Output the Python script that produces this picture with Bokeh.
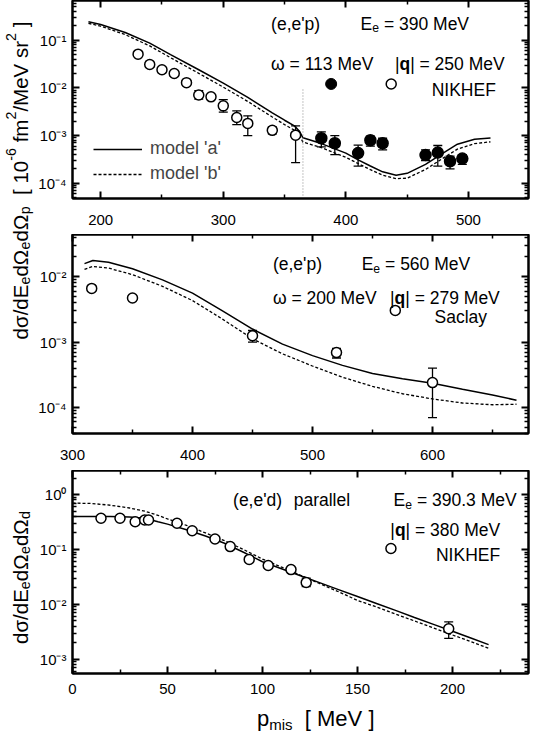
import math
from bokeh.plotting import figure
from bokeh.models import (Range1d, LinearAxis, LogAxis, FixedTicker, Label, Whisker, TeeHead,
                          ColumnDataSource, Legend, LegendItem, Div)
from bokeh.layouts import row, column
from bokeh.embed import file_html
from bokeh.resources import INLINE

FONT = "Liberation Sans"

# ---------------- data: top panel (e,e'p) 390 MeV, NIKHEF ----------------
top_model_x = [190, 200, 220, 240, 257, 280, 300, 320, 340, 350, 358, 362, 365, 380, 400, 410,
               420, 430, 441, 450, 465, 478, 491, 505, 518]
top_model_a = [0.243, 0.214, 0.145, 0.087, 0.050, 0.024, 0.0126, 0.0063, 0.0030, 0.0021, 0.0016,
               0.00125, 0.00090, 0.00068, 0.00043, 0.00031, 0.00023, 0.000174, 0.000148, 0.000162,
               0.00025, 0.00041, 0.00066, 0.00084, 0.00089]
top_model_b = [0.226, 0.197, 0.131, 0.076, 0.043, 0.0202, 0.0104, 0.0052, 0.00245, 0.0017, 0.0013,
               0.00102, 0.00073, 0.00056, 0.00035, 0.00026, 0.000193, 0.000148, 0.000125, 0.000128,
               0.000195, 0.00032, 0.00052, 0.00068, 0.00074]
top_open_x = [230.5, 240, 250, 260, 270, 280, 290, 300, 311, 320, 340, 359]
top_open_y = [0.051, 0.031, 0.024, 0.020, 0.0129, 0.0071, 0.0065, 0.0042, 0.0024, 0.0018, 0.00129, 0.00102]
top_open_lo = [0.046, 0.027, 0.021, 0.018, 0.0115, 0.0058, 0.0058, 0.0031, 0.0017, 0.0010, 0.00109, 0.00027]
top_open_hi = [0.056, 0.036, 0.027, 0.022, 0.0145, 0.0088, 0.0072, 0.0057, 0.0033, 0.0026, 0.00153, 0.0016]
top_full_x = [380, 391, 410, 420, 430, 465, 475, 485, 495]
top_full_y = [0.00088, 0.00069, 0.00043, 0.00080, 0.00069, 0.00039, 0.00044, 0.00029, 0.00033]
top_full_lo = [0.00058, 0.00040, 0.00023, 0.00060, 0.00050, 0.00030, 0.00023, 0.00020, 0.00025]
top_full_hi = [0.00120, 0.00100, 0.00063, 0.00097, 0.00088, 0.00050, 0.00062, 0.00037, 0.00040]
top_boundary_x = 365
top_boundary_ytop = 0.0099

# ---------------- data: middle panel (e,e'p) 560 MeV, Saclay ----------------
mid_model_x = [310, 317, 330, 350, 375, 400, 425, 450, 475, 500, 525, 550, 575, 600, 625, 650, 670]
mid_model_a = [0.0158, 0.0176, 0.0166, 0.0132, 0.0089, 0.0056, 0.0030, 0.00158, 0.00093, 0.00062,
               0.00044, 0.00033, 0.000275, 0.000234, 0.00019, 0.000155, 0.000129]
mid_model_b = [0.0129, 0.0143, 0.0135, 0.0107, 0.0071, 0.0043, 0.00224, 0.00112, 0.00066, 0.00043,
               0.00029, 0.00021, 0.000162, 0.000135, 0.000117, 0.000110, 0.000112]
mid_pts_x = [316, 350, 450, 520, 600]
mid_pts_y = [0.0066, 0.0047, 0.00125, 0.00069, 0.00024]
mid_pts_lo = [0.0061, 0.0044, 0.00100, 0.00057, 0.00007]
mid_pts_hi = [0.0071, 0.0050, 0.00150, 0.00080, 0.00040]

# ---------------- data: bottom panel (e,e'd) parallel ----------------
bot_model_x = [0, 10, 20, 30, 38, 45, 50, 60, 70, 80, 90, 100, 110, 120, 130, 140, 150, 160, 170,
               180, 190, 200, 210, 219]
bot_model_a = [0.40, 0.40, 0.398, 0.39, 0.37, 0.32, 0.29, 0.229, 0.176, 0.130, 0.089, 0.0598, 0.0447,
               0.0333, 0.0249, 0.0186, 0.0139, 0.0104, 0.00776, 0.00578, 0.00432, 0.00323, 0.00241, 0.00185]
bot_model_b = [0.70, 0.69, 0.64, 0.57, 0.50, 0.42, 0.36, 0.275, 0.20, 0.145, 0.100, 0.067, 0.0478,
               0.0339, 0.024, 0.017, 0.0118, 0.00896, 0.00668, 0.00498, 0.00371, 0.00277, 0.00207, 0.00158]
bot_pts_x = [15, 25, 33, 38, 40, 55, 63, 75, 83, 93, 103, 115, 123, 198]
bot_pts_y = [0.37, 0.37, 0.32, 0.345, 0.345, 0.30, 0.22, 0.155, 0.113, 0.066, 0.051, 0.043, 0.025, 0.0036]
bot_pts_lo = [0.35, 0.35, 0.30, 0.33, 0.33, 0.28, 0.205, 0.145, 0.106, 0.061, 0.047, 0.040, 0.021, 0.0024]
bot_pts_hi = [0.39, 0.39, 0.34, 0.36, 0.36, 0.32, 0.24, 0.165, 0.120, 0.071, 0.055, 0.046, 0.030, 0.0048]

# ---------------- ticks ----------------
top_xticks = [200, 300, 400, 500]
top_xminor = [250, 350, 450, 550]
mid_xticks = [300, 400, 500, 600]
mid_xminor = [350, 450, 550, 650]
bot_xticks = [0, 50, 100, 150, 200]
bot_xminor = [25, 75, 125, 175, 225]
top_yticks = [1e-4, 1e-3, 1e-2, 1e-1]
top_ylabels = ["10⁻⁴", "10⁻³", "10⁻²", "10⁻¹"]
mid_yticks = [1e-4, 1e-3, 1e-2]
mid_ylabels = ["10⁻⁴", "10⁻³", "10⁻²"]
bot_yticks = [1e-3, 1e-2, 1e-1, 1.0]
bot_ylabels = ["10⁻³", "10⁻²", "10⁻¹", "10⁰"]
log_minor = [m * 10.0 ** e for e in range(-6, 1) for m in range(2, 10)]

# ---------------- text helpers ----------------
W = {' ': 278, '!': 278, "'": 191, '(': 333, ')': 333, ',': 278, '-': 333, '.': 278, '/': 278,
     '=': 584, '[': 278, ']': 278, '|': 260, 'E': 667, 'F': 611, 'H': 722, 'I': 278, 'K': 667,
     'M': 833, 'N': 722, 'S': 667, 'V': 667, 'a': 556, 'c': 500, 'd': 556, 'e': 556, 'f': 278,
     'i': 222, 'l': 222, 'm': 833, 'o': 556, 'p': 556, 'q': 556, 'r': 333, 's': 500, 'y': 500,
     'σ': 617, 'Ω': 768, 'ω': 781}
for _c in "0123456789":
    W[_c] = 556
WB = {'q': 611, '|': 280}


def seg_size(st, fs):
    return fs * 0.7 if st in ("sub", "sup") else fs


def twidth(s, bold=False):
    t = WB if bold else W
    return sum(t.get(c, W.get(c, 556)) for c in s) / 1000.0


def total_len(segs, fs):
    return sum(twidth(t, s == "b") * seg_size(s, fs) for t, s in segs)


def rich(p, x, y, segs, fs, units="data", angle=0.0, center=True, sub_shift=0.24):
    base = -0.36 * fs if center else 0.0
    adv = 0.0
    for txt, st in segs:
        size = seg_size(st, fs)
        bold = st == "b"
        shift = -sub_shift * fs if st == "sub" else (0.42 * fs if st == "sup" else 0.0)
        lead = len(txt) - len(txt.lstrip(" "))
        trail = len(txt) - len(txt.rstrip(" "))
        body = txt.strip(" ")
        adv += twidth(" " * lead) * size
        if body:
            if angle == 0.0:
                xo, yo = adv, base + shift
            else:
                xo, yo = -(base + shift), adv
            p.add_layout(Label(x=x, y=y, x_units=units, y_units=units,
                               x_offset=xo, y_offset=yo, text=body, angle=angle,
                               text_font=FONT, text_font_size=f"{size:.1f}px",
                               text_font_style="bold" if bold else "normal",
                               text_baseline="alphabetic", text_align="left", text_color="black"))
        adv += twidth(body, bold) * size + twidth(" " * trail) * size
    return adv


def make_fig(h, xr, yr, bottom_border):
    p = figure(width=495, height=h, x_range=Range1d(*xr), y_range=Range1d(*yr),
               y_axis_type="log", output_backend="svg", toolbar_location=None,
               min_border_left=37, min_border_right=2, min_border_top=0,
               min_border_bottom=bottom_border)
    p.xgrid.visible = False
    p.ygrid.visible = False
    p.outline_line_color = "black"
    p.outline_line_width = 2
    p.background_fill_color = "white"
    p.border_fill_color = "white"
    return p


def blank_fig(w, h):
    # a plain canvas without any axes: used for texts that lie outside the panels
    p = figure(width=w, height=h, x_range=Range1d(0, w), y_range=Range1d(0, h),
               x_axis_location=None, y_axis_location=None,
               output_backend="svg", toolbar_location=None, min_border=0)
    p.xgrid.visible = False
    p.ygrid.visible = False
    p.outline_line_color = None
    return p


def style_axis(ax, ticks, minor, labels=None, standoff=6):
    ax.ticker = FixedTicker(ticks=ticks, minor_ticks=minor)
    ax.major_tick_in = 7
    ax.major_tick_out = 0
    ax.minor_tick_in = 4
    ax.minor_tick_out = 0
    ax.major_tick_line_width = 2
    ax.minor_tick_line_width = 1.5
    ax.axis_line_width = 2
    ax.axis_line_color = "black"
    ax.major_tick_line_color = "black"
    ax.minor_tick_line_color = "black"
    ax.major_label_text_font = FONT
    if labels is None:
        # mirror axis: ticks only
        ax.major_label_text_font_size = "1px"
        ax.major_label_standoff = 0
        ax.major_label_overrides = {t: "" for t in ticks}
    else:
        ax.major_label_text_font_size = "15px"
        ax.major_label_text_color = "black"
        ax.major_label_standoff = standoff
        if labels != "num":
            ax.major_label_overrides = {t: l for t, l in zip(ticks, labels)}


def setup_axes(p, xt, xm, yt, ylabels, xstandoff=16):
    style_axis(p.xaxis[0], xt, xm, "num", standoff=xstandoff)
    style_axis(p.yaxis[0], yt, log_minor, ylabels, standoff=6)
    top = LinearAxis()
    style_axis(top, xt, xm)
    p.add_layout(top, "above")
    right = LogAxis()
    style_axis(right, yt, log_minor)
    p.add_layout(right, "right")


def data_marks(p, xs, ys, lo, hi, filled=False):
    src = ColumnDataSource(dict(x=xs, y=ys, lo=lo, hi=hi))
    w = Whisker(source=src, base="x", lower="lo", upper="hi", dimension="height",
                line_color="black", line_width=1.3,
                upper_head=TeeHead(size=9, line_color="black", line_width=1.3),
                lower_head=TeeHead(size=9, line_color="black", line_width=1.3))
    p.add_layout(w)
    p.scatter("x", "y", source=src, marker="circle", size=10 if not filled else 11,
              fill_color="black" if filled else "white", line_color="black", line_width=1.5)


TXT = 17.5

# ---------------- top figure ----------------
p1 = make_fig(234, (177, 549), (4.8e-5, 0.68), 36)
setup_axes(p1, top_xticks, top_xminor, top_yticks, top_ylabels)
la = p1.line(top_model_x, top_model_a, line_color="black", line_width=1.5)
lb = p1.line(top_model_x, top_model_b, line_color="black", line_width=1.3, line_dash="3 2")
p1.segment(x0=[top_boundary_x], y0=[4.8e-5], x1=[top_boundary_x], y1=[top_boundary_ytop],
           line_color="#888888", line_width=1, line_dash="1 2")
data_marks(p1, top_open_x, top_open_y, top_open_lo, top_open_hi)
data_marks(p1, top_full_x, top_full_y, top_full_lo, top_full_hi, filled=True)
leg = Legend(items=[LegendItem(label="model 'a'", renderers=[la]),
                    LegendItem(label="model 'b'", renderers=[lb])],
             location=(21, 14), glyph_width=49, glyph_height=20, label_height=20, spacing=4,
             padding=2, border_line_color=None, background_fill_alpha=0,
             label_standoff=8, label_text_font=FONT, label_text_font_size="18px")
p1.add_layout(leg)
rich(p1, 339, 0.30, [("(e,e'p)", "n")], TXT)
rich(p1, 412, 0.30, [("E", "n"), ("e", "sub"), (" = 390 MeV", "n")], TXT)
rich(p1, 339, 0.0433, [("ω = 113 MeV", "n")], TXT)
rich(p1, 440, 0.0433, [("|", "n"), ("q", "b"), ("| = 250 MeV", "n")], TXT)
p1.scatter([388], [0.0121], marker="circle", size=11, fill_color="black", line_color="black")
p1.scatter([437], [0.0121], marker="circle", size=10, fill_color="white", line_color="black", line_width=1.5)
rich(p1, 470, 0.0121, [("NIKHEF", "n")], TXT)

# ---------------- middle figure ----------------
p2 = make_fig(236, (300, 680), (4.0e-5, 0.044), 37)
setup_axes(p2, mid_xticks, mid_xminor, mid_yticks, mid_ylabels)
p2.line(mid_model_x, mid_model_a, line_color="black", line_width=1.5)
p2.line(mid_model_x, mid_model_b, line_color="black", line_width=1.3, line_dash="3 2")
data_marks(p2, mid_pts_x, mid_pts_y, mid_pts_lo, mid_pts_hi)
rich(p2, 467, 0.0192, [("(e,e'p)", "n")], TXT)
rich(p2, 541, 0.0192, [("E", "n"), ("e", "sub"), (" = 560 MeV", "n")], TXT)
rich(p2, 467, 0.00585, [("ω = 200 MeV", "n")], TXT)
rich(p2, 564.6, 0.00585, [("|", "n"), ("q", "b"), ("| = 279 MeV", "n")], TXT)
p2.scatter([569], [0.00304], marker="circle", size=10, fill_color="white", line_color="black", line_width=1.5)
rich(p2, 601.7, 0.00304, [("Saclay", "n")], TXT)

# ---------------- bottom figure ----------------
p3 = make_fig(231, (0, 240), (5.5e-4, 2.75), 28)
setup_axes(p3, bot_xticks, bot_xminor, bot_yticks, bot_ylabels, xstandoff=10)
p3.line(bot_model_x, bot_model_a, line_color="black", line_width=1.5)
p3.line(bot_model_x, bot_model_b, line_color="black", line_width=1.3, line_dash="3 2")
data_marks(p3, bot_pts_x, bot_pts_y, bot_pts_lo, bot_pts_hi)
rich(p3, 84.5, 1.045, [("(e,e'd)", "n")], TXT)
rich(p3, 116.4, 1.045, [("parallel", "n")], TXT)
rich(p3, 169, 1.045, [("E", "n"), ("e", "sub"), (" = 390.3 MeV", "n")], TXT)
rich(p3, 167.3, 0.291, [("|", "n"), ("q", "b"), ("| = 380 MeV", "n")], TXT)
p3.scatter([167.6], [0.104], marker="circle", size=10, fill_color="white", line_color="black", line_width=1.5)
rich(p3, 191.3, 0.104, [("NIKHEF", "n")], TXT)

# ---------------- x-axis title (HTML text below the bottom panel) ----------------
TS = 22
title_len = total_len([("p", "n"), ("mis", "sub"), ("  [ MeV ]", "n")], TS)
tdiv = Div(text="p<sub style='font-size:15px;vertical-align:-4px;line-height:0'>mis</sub>"
                "&nbsp;&nbsp;[ MeV ]",
           width=495, height=28,
           styles={"font-family": FONT, "font-size": f"{TS}px", "line-height": "26px",
                   "color": "black", "white-space": "nowrap",
                   "text-indent": f"{276 - title_len / 2:.0f}px", "overflow": "visible"})

# ---------------- y-axis titles (separate narrow canvas) ----------------
lab = blank_fig(35, 729)
LS = 20.5
# canvas coords: x = page_x - 8, y = 737 - page_y
seg_upper = [("dσ/dE", "n"), ("e", "sub"), ("dΩ", "n"), ("e", "sub"), ("dΩ", "n"), ("p", "sub"),
             ("  [ 10", "n"), ("-6", "sup"), (" fm", "n"), ("2", "sup"), ("/MeV sr", "n"),
             ("2", "sup"), (" ]", "n")]
seg_lower = [("dσ/dE", "n"), ("e", "sub"), ("dΩ", "n"), ("e", "sub"), ("dΩ", "n"), ("d", "sub")]
ang = math.pi / 2
rich(lab, 19.5, 737 - 188 - total_len(seg_upper, LS) / 2, seg_upper, LS, angle=ang, center=False)
rich(lab, 19.5, 737 - 585 - total_len(seg_lower, LS) / 2, seg_lower, LS, angle=ang, center=False)

layout = row(lab, column(p1, p2, p3, tdiv))
open("out.html", "w").write(file_html(layout, INLINE))
